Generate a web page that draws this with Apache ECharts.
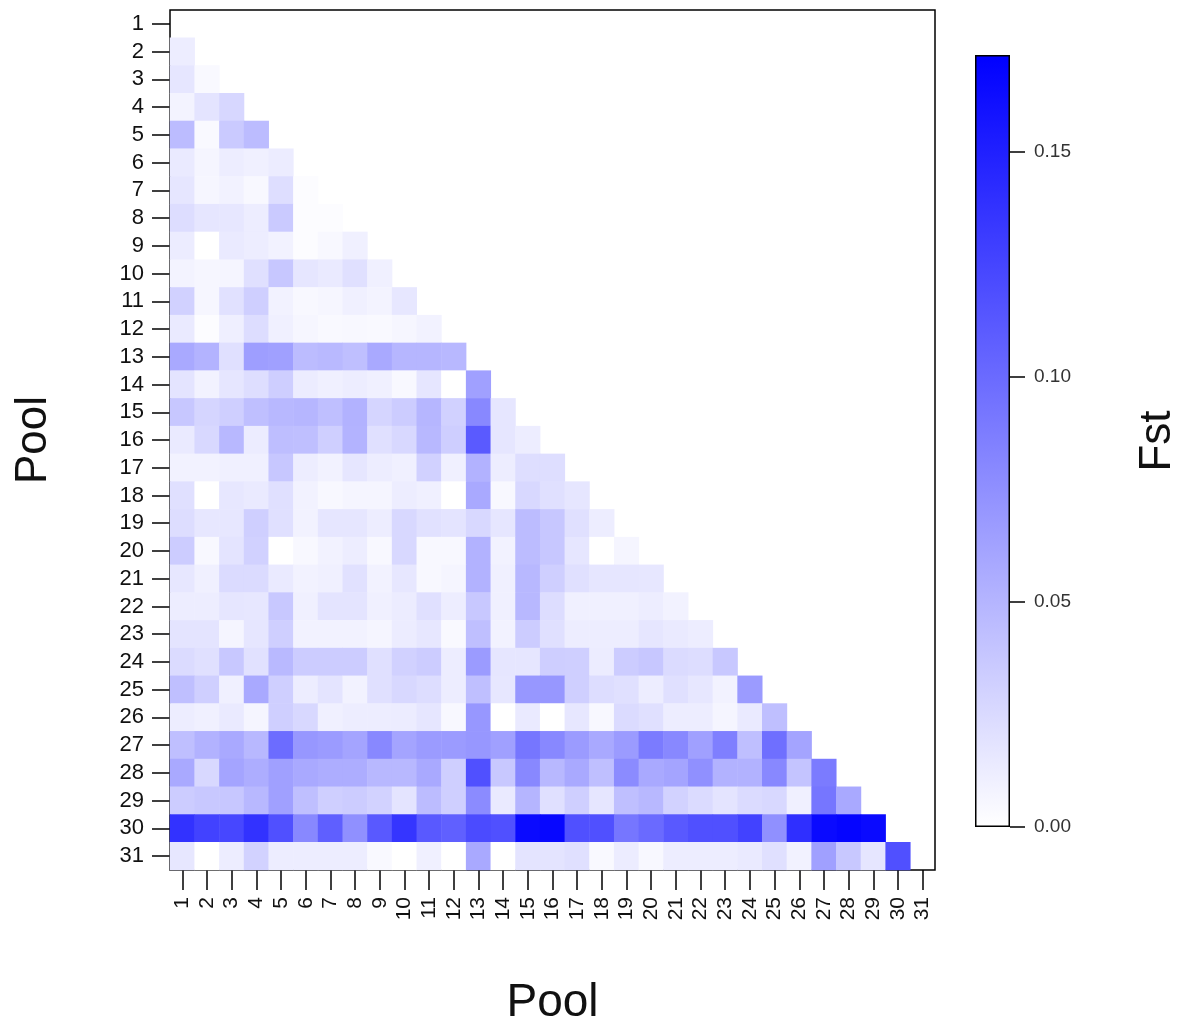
<!DOCTYPE html>
<html>
<head>
<meta charset="utf-8">
<script src="https://cdn.jsdelivr.net/npm/echarts@6/dist/echarts.min.js"></script>
<style>
html,body{margin:0;padding:0;background:#fff;}
#chart{width:1185px;height:1025px;}
</style>
</head>
<body>
<div id="chart"></div>
<script>
// Pool labels (both axes)
const pools = ['1','2','3','4','5','6','7','8','9','10','11','12','13','14','15','16','17','18','19','20','21','22','23','24','25','26','27','28','29','30','31'];
// Colour bar
const fstMax = 0.1716;
const fstTicks = [0, 0.05, 0.10, 0.15];

// Pairwise Fst, lower triangle: row = pool i, entries for pools 1..i-1
const fst02 = [0.012];
const fst03 = [0.017, 0.004];
const fst04 = [0.008, 0.018, 0.027];
const fst05 = [0.045, 0.004, 0.036, 0.045];
const fst06 = [0.014, 0.007, 0.012, 0.010, 0.013];
const fst07 = [0.017, 0.006, 0.009, 0.005, 0.022, 0.002];
const fst08 = [0.023, 0.017, 0.016, 0.012, 0.036, 0.002, 0.002];
const fst09 = [0.013, 0.000, 0.014, 0.012, 0.009, 0.002, 0.005, 0.010];
const fst10 = [0.008, 0.006, 0.007, 0.021, 0.038, 0.017, 0.014, 0.021, 0.010];
const fst11 = [0.031, 0.006, 0.020, 0.032, 0.009, 0.005, 0.006, 0.010, 0.008, 0.016];
const fst12 = [0.014, 0.002, 0.011, 0.023, 0.010, 0.006, 0.004, 0.005, 0.004, 0.006, 0.009];
const fst13 = [0.058, 0.051, 0.021, 0.065, 0.064, 0.045, 0.047, 0.043, 0.058, 0.049, 0.049, 0.048];
const fst14 = [0.018, 0.009, 0.017, 0.022, 0.033, 0.013, 0.010, 0.012, 0.010, 0.005, 0.017, 0.000, 0.064];
const fst15 = [0.038, 0.028, 0.032, 0.043, 0.048, 0.049, 0.043, 0.052, 0.028, 0.034, 0.049, 0.031, 0.080, 0.017];
const fst16 = [0.014, 0.026, 0.048, 0.013, 0.044, 0.043, 0.032, 0.051, 0.021, 0.026, 0.048, 0.033, 0.111, 0.017, 0.012];
const fst17 = [0.009, 0.009, 0.010, 0.010, 0.038, 0.012, 0.009, 0.017, 0.012, 0.010, 0.031, 0.010, 0.052, 0.012, 0.022, 0.022];
const fst18 = [0.021, 0.000, 0.016, 0.014, 0.021, 0.009, 0.005, 0.007, 0.007, 0.012, 0.010, 0.000, 0.058, 0.005, 0.026, 0.021, 0.017];
const fst19 = [0.023, 0.016, 0.016, 0.032, 0.021, 0.009, 0.017, 0.017, 0.012, 0.026, 0.020, 0.018, 0.026, 0.017, 0.045, 0.038, 0.021, 0.012];
const fst20 = [0.034, 0.005, 0.018, 0.031, 0.000, 0.005, 0.009, 0.012, 0.005, 0.026, 0.005, 0.005, 0.052, 0.009, 0.045, 0.038, 0.017, 0.000, 0.007];
const fst21 = [0.016, 0.010, 0.024, 0.024, 0.014, 0.009, 0.010, 0.020, 0.009, 0.016, 0.005, 0.007, 0.052, 0.010, 0.048, 0.032, 0.021, 0.017, 0.017, 0.016];
const fst22 = [0.012, 0.012, 0.017, 0.016, 0.037, 0.010, 0.018, 0.018, 0.010, 0.013, 0.021, 0.012, 0.037, 0.010, 0.048, 0.023, 0.010, 0.010, 0.010, 0.012, 0.009];
const fst23 = [0.018, 0.018, 0.007, 0.017, 0.032, 0.009, 0.009, 0.009, 0.007, 0.013, 0.016, 0.004, 0.043, 0.009, 0.034, 0.021, 0.012, 0.012, 0.012, 0.017, 0.014, 0.012];
const fst24 = [0.024, 0.021, 0.037, 0.020, 0.047, 0.034, 0.034, 0.034, 0.021, 0.031, 0.034, 0.012, 0.067, 0.017, 0.017, 0.033, 0.032, 0.013, 0.034, 0.038, 0.024, 0.023, 0.037];
const fst25 = [0.043, 0.032, 0.010, 0.058, 0.032, 0.012, 0.018, 0.009, 0.021, 0.026, 0.023, 0.012, 0.043, 0.016, 0.070, 0.070, 0.032, 0.023, 0.021, 0.012, 0.021, 0.016, 0.009, 0.067];
const fst26 = [0.012, 0.010, 0.014, 0.007, 0.032, 0.026, 0.010, 0.012, 0.012, 0.013, 0.017, 0.005, 0.070, 0.000, 0.014, 0.000, 0.016, 0.005, 0.024, 0.021, 0.012, 0.012, 0.007, 0.014, 0.043];
const fst27 = [0.043, 0.052, 0.058, 0.048, 0.099, 0.070, 0.067, 0.061, 0.080, 0.061, 0.067, 0.067, 0.070, 0.064, 0.092, 0.080, 0.067, 0.058, 0.067, 0.089, 0.080, 0.064, 0.086, 0.043, 0.097, 0.061];
const fst28 = [0.058, 0.026, 0.061, 0.055, 0.064, 0.058, 0.055, 0.055, 0.048, 0.048, 0.058, 0.032, 0.118, 0.037, 0.080, 0.048, 0.058, 0.043, 0.078, 0.058, 0.061, 0.075, 0.052, 0.052, 0.080, 0.040, 0.089];
const fst29 = [0.034, 0.037, 0.038, 0.048, 0.064, 0.043, 0.032, 0.034, 0.030, 0.018, 0.045, 0.032, 0.078, 0.014, 0.050, 0.021, 0.032, 0.017, 0.043, 0.048, 0.030, 0.024, 0.018, 0.024, 0.026, 0.010, 0.092, 0.058];
const fst30 = [0.138, 0.127, 0.124, 0.138, 0.118, 0.080, 0.108, 0.075, 0.112, 0.136, 0.112, 0.107, 0.121, 0.118, 0.165, 0.167, 0.118, 0.118, 0.092, 0.100, 0.112, 0.118, 0.118, 0.127, 0.075, 0.140, 0.165, 0.168, 0.165];
const fst31 = [0.016, 0.000, 0.012, 0.030, 0.012, 0.012, 0.012, 0.012, 0.004, 0.000, 0.010, 0.000, 0.058, 0.000, 0.018, 0.018, 0.021, 0.004, 0.013, 0.005, 0.012, 0.012, 0.012, 0.014, 0.021, 0.009, 0.064, 0.037, 0.017, 0.118];

const fstRows = [fst02, fst03, fst04, fst05, fst06, fst07, fst08, fst09, fst10, fst11, fst12, fst13, fst14, fst15, fst16,
  fst17, fst18, fst19, fst20, fst21, fst22, fst23, fst24, fst25, fst26, fst27, fst28, fst29, fst30, fst31];

const cells = [];
fstRows.forEach(function (row, k) {
  const yi = k + 1; // pool index of this row
  row.forEach(function (v, xi) { cells.push([xi, yi, v]); });
});

const FONT = "'Liberation Sans', Arial, sans-serif";
const chart = echarts.init(document.getElementById('chart'), null, {renderer: 'canvas'});

chart.setOption({
  backgroundColor: '#ffffff',
  animation: false,
  textStyle: {fontFamily: FONT},
  grid: [
    {left: 170, right: 250, top: 10, bottom: 155, show: true, borderColor: '#000', borderWidth: 1.5,
      backgroundColor: 'transparent', containLabel: false, outerBoundsMode: 'none'},
    {left: 975, width: 35, top: 55, height: 772, show: false, containLabel: false, outerBoundsMode: 'none'}
  ],
  xAxis: [
    {
      type: 'category', gridIndex: 0, data: pools,
      axisLine: {show: false},
      axisTick: {show: true, alignWithLabel: true, length: 20, lineStyle: {color: '#000', width: 1.5}},
      axisLabel: {rotate: 90, fontSize: 21, color: '#111', margin: 27, fontFamily: FONT, interval: 0},
      splitLine: {show: false},
      name: 'Pool', nameLocation: 'middle', nameGap: 110,
      nameTextStyle: {fontSize: 46, color: '#111', fontFamily: FONT}
    },
    {type: 'category', gridIndex: 1, data: ['Fst'], show: false}
  ],
  yAxis: [
    {
      type: 'category', gridIndex: 0, data: pools, inverse: true,
      axisLine: {show: false},
      axisTick: {show: true, alignWithLabel: true, length: 18, lineStyle: {color: '#000', width: 1.5}},
      axisLabel: {fontSize: 22, color: '#111', margin: 26, fontFamily: FONT, interval: 0},
      splitLine: {show: false},
      name: 'Pool', nameLocation: 'middle', nameGap: 114, nameRotate: 90,
      nameTextStyle: {fontSize: 44, color: '#111', fontFamily: FONT}
    },
    {
      type: 'value', gridIndex: 1, min: 0, max: fstMax, position: 'right',
      axisLine: {show: false},
      axisTick: {show: true, length: 15, customValues: fstTicks, lineStyle: {color: '#000', width: 1.5}},
      axisLabel: {fontSize: 19, color: '#333', margin: 24, customValues: fstTicks, fontFamily: FONT,
        formatter: function (v) { return v.toFixed(2); }},
      splitLine: {show: false},
      name: 'Fst', nameLocation: 'middle', nameGap: 126, nameRotate: 90,
      nameTextStyle: {fontSize: 44, color: '#111', fontFamily: FONT}
    }
  ],
  visualMap: {
    type: 'continuous', show: false, seriesIndex: 0, dimension: 2,
    min: 0, max: fstMax, inRange: {color: ['#ffffff', '#0000ff']}
  },
  series: [
    {
      type: 'heatmap', xAxisIndex: 0, yAxisIndex: 0, data: cells,
      itemStyle: {borderWidth: 0}, silent: true, progressive: 0
    },
    {
      type: 'bar', xAxisIndex: 1, yAxisIndex: 1, data: [fstMax], barWidth: '100%', silent: true,
      itemStyle: {
        color: new echarts.graphic.LinearGradient(0, 0, 0, 1, [
          {offset: 0, color: '#0000ff'}, {offset: 1, color: '#ffffff'}
        ]),
        borderColor: '#000', borderWidth: 1.5
      }
    }
  ]
});
</script>
</body>
</html>
